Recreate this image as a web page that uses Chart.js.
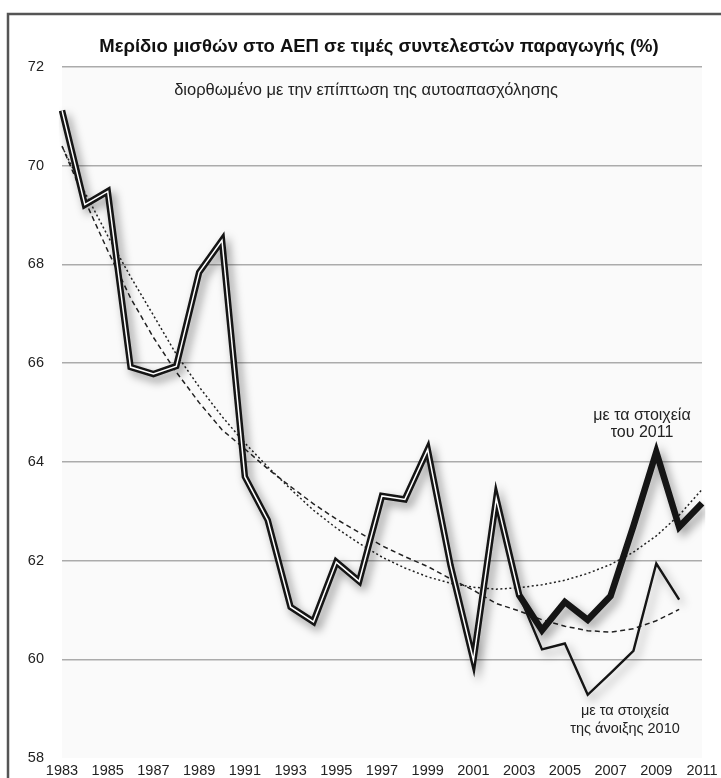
<!DOCTYPE html>
<html>
<head>
<meta charset="utf-8">
<script src="https://cdn.jsdelivr.net/npm/chart.js@4.4.1/dist/chart.umd.min.js"></script>
<style>
html,body{margin:0;padding:0;background:#fff;}
#wrap{width:721px;height:778px;position:relative;}
</style>
</head>
<body>
<div id="wrap"><canvas id="c" width="721" height="778"></canvas></div>
<script>
// ---- data ----
const years = [1983,1984,1985,1986,1987,1988,1989,1990,1991,1992,1993,1994,1995,1996,1997,1998,1999,2000,2001,2002,2003,2004,2005,2006,2007,2008,2009,2010,2011];
// share with 2011 data (thick line)
const share2011 = [71.12,69.21,69.48,65.92,65.78,65.94,67.84,68.49,63.70,62.82,61.06,60.76,61.97,61.58,63.31,63.24,64.25,61.90,59.98,63.26,61.30,60.59,61.16,60.80,61.28,62.70,64.20,62.68,63.16];
// share with spring 2010 data (thin line)
const share2010 = [71.12,69.21,69.48,65.92,65.78,65.94,67.84,68.49,63.70,62.82,61.06,60.76,61.97,61.58,63.31,63.24,64.25,61.90,59.98,63.26,61.30,60.20,60.32,59.28,59.72,60.17,61.94,61.21];
// trend lines
const trend2011 = [70.39,69.46,68.58,67.75,66.97,66.18,65.52,64.92,64.38,63.90,63.45,63.02,62.66,62.35,62.07,61.85,61.67,61.54,61.46,61.42,61.45,61.51,61.60,61.74,61.92,62.17,62.50,62.92,63.44];
const trend2010 = [70.40,69.30,68.28,67.32,66.52,65.82,65.20,64.65,64.26,63.86,63.50,63.15,62.84,62.57,62.30,62.08,61.88,61.63,61.40,61.13,60.98,60.80,60.67,60.58,60.55,60.62,60.78,61.01];
const splitYear = 2003;
const yTicks = [58,60,62,64,66,68,70,72];

const titleText = 'Μερίδιο μισθών στο ΑΕΠ σε τιμές συντελεστών παραγωγής (%)';
const subText = 'διορθωμένο με την επίπτωση της αυτοαπασχόλησης';
const note2011 = ['με τα στοιχεία', 'του 2011'];
const note2010 = ['με τα στοιχεία', 'της άνοιξης 2010'];

const FONT = '"Liberation Sans", Arial, Helvetica, sans-serif';

const common = share2010.map((v,i) => years[i] <= splitYear ? v : null);
const tail2010 = share2010.map((v,i) => years[i] >= splitYear ? v : null);

const decor = {
  id: 'decor',
  beforeDraw(chart) {
    const {ctx, chartArea: a} = chart;
    ctx.save();
    ctx.fillStyle = '#fafafa';
    ctx.fillRect(a.left, a.top, a.right - a.left, a.bottom - a.top);
    ctx.strokeStyle = '#555';
    ctx.lineWidth = 2.5;
    ctx.strokeRect(8, 14, 900, 900);
    ctx.restore();
  },
  afterDraw(chart) {
    const {ctx} = chart;
    ctx.save();
    ctx.fillStyle = '#111';
    ctx.textAlign = 'center';
    ctx.textBaseline = 'middle';
    ctx.font = 'bold 18.5px ' + FONT;
    ctx.fillText(titleText, 379, 47);
    ctx.fillStyle = '#222';
    ctx.font = '16.5px ' + FONT;
    ctx.fillText(subText, 366, 90);
    ctx.font = '16px ' + FONT;
    ctx.fillText(note2011[0], 642, 416);
    ctx.fillText(note2011[1], 642, 433);
    ctx.font = '14.5px ' + FONT;
    ctx.fillText(note2010[0], 625, 711);
    ctx.fillText(note2010[1], 625, 729);
    ctx.restore();
  },
  beforeDatasetDraw(chart, args) {
    const ds = chart.data.datasets[args.index];
    chart.ctx.save();
    if (ds.shadow) {
      chart.ctx.shadowColor = 'rgba(0,0,0,0.4)';
      chart.ctx.shadowBlur = 10;
      chart.ctx.shadowOffsetX = 4;
      chart.ctx.shadowOffsetY = 5;
    }
  },
  afterDatasetDraw(chart) {
    chart.ctx.restore();
  }
};

new Chart(document.getElementById('c'), {
  type: 'line',
  data: {
    labels: years,
    datasets: [
      { data: common, borderColor: '#ffffff', borderWidth: 1.5, order: 0, shadow: false },
      { data: tail2010, borderColor: '#151515', borderWidth: 2.4, order: 1, shadow: true },
      { data: share2011, borderColor: '#151515', borderWidth: 6.5, order: 2, shadow: true },
      { data: trend2011, borderColor: '#222', borderWidth: 1.5, borderDash: [2, 2.5], order: 5 },
      { data: trend2010, borderColor: '#222', borderWidth: 1.5, borderDash: [5, 3.5], order: 6 }
    ]
  },
  options: {
    responsive: false,
    animation: false,
    events: [],
    layout: { autoPadding: false, padding: { top: 67, right: 19, left: 0, bottom: 0 } },
    elements: {
      point: { radius: 0 },
      line: { tension: 0, borderJoinStyle: 'miter', borderCapStyle: 'butt', fill: false }
    },
    plugins: { legend: { display: false }, tooltip: { enabled: false }, title: { display: false } },
    scales: {
      x: {
        type: 'category',
        offset: false,
        grid: { display: false, drawTicks: false },
        border: { display: false },
        ticks: {
          autoSkip: false, maxRotation: 0, padding: 4, color: '#222',
          font: { family: FONT, size: 14.5 },
          callback: function(v, i) { return (years[i] - years[0]) % 2 === 0 ? String(years[i]) : ''; }
        },
        afterFit(s) { s.height = 20; s.paddingLeft = 0; s.paddingRight = 0; }
      },
      y: {
        min: 58, max: 72,
        afterBuildTicks(s) { s.ticks = yTicks.map(v => ({ value: v })); },
        grid: {
          drawTicks: false,
          lineWidth: 1.5,
          color: c => (c.tick && c.tick.value === 58) ? 'rgba(0,0,0,0)' : '#ababab'
        },
        border: { display: false },
        ticks: { padding: 18, color: '#222', font: { family: FONT, size: 14.5 } },
        afterFit(s) { s.width = 62; s.paddingTop = 0; s.paddingBottom = 0; }
      }
    }
  },
  plugins: [decor]
});
</script>
</body>
</html>
